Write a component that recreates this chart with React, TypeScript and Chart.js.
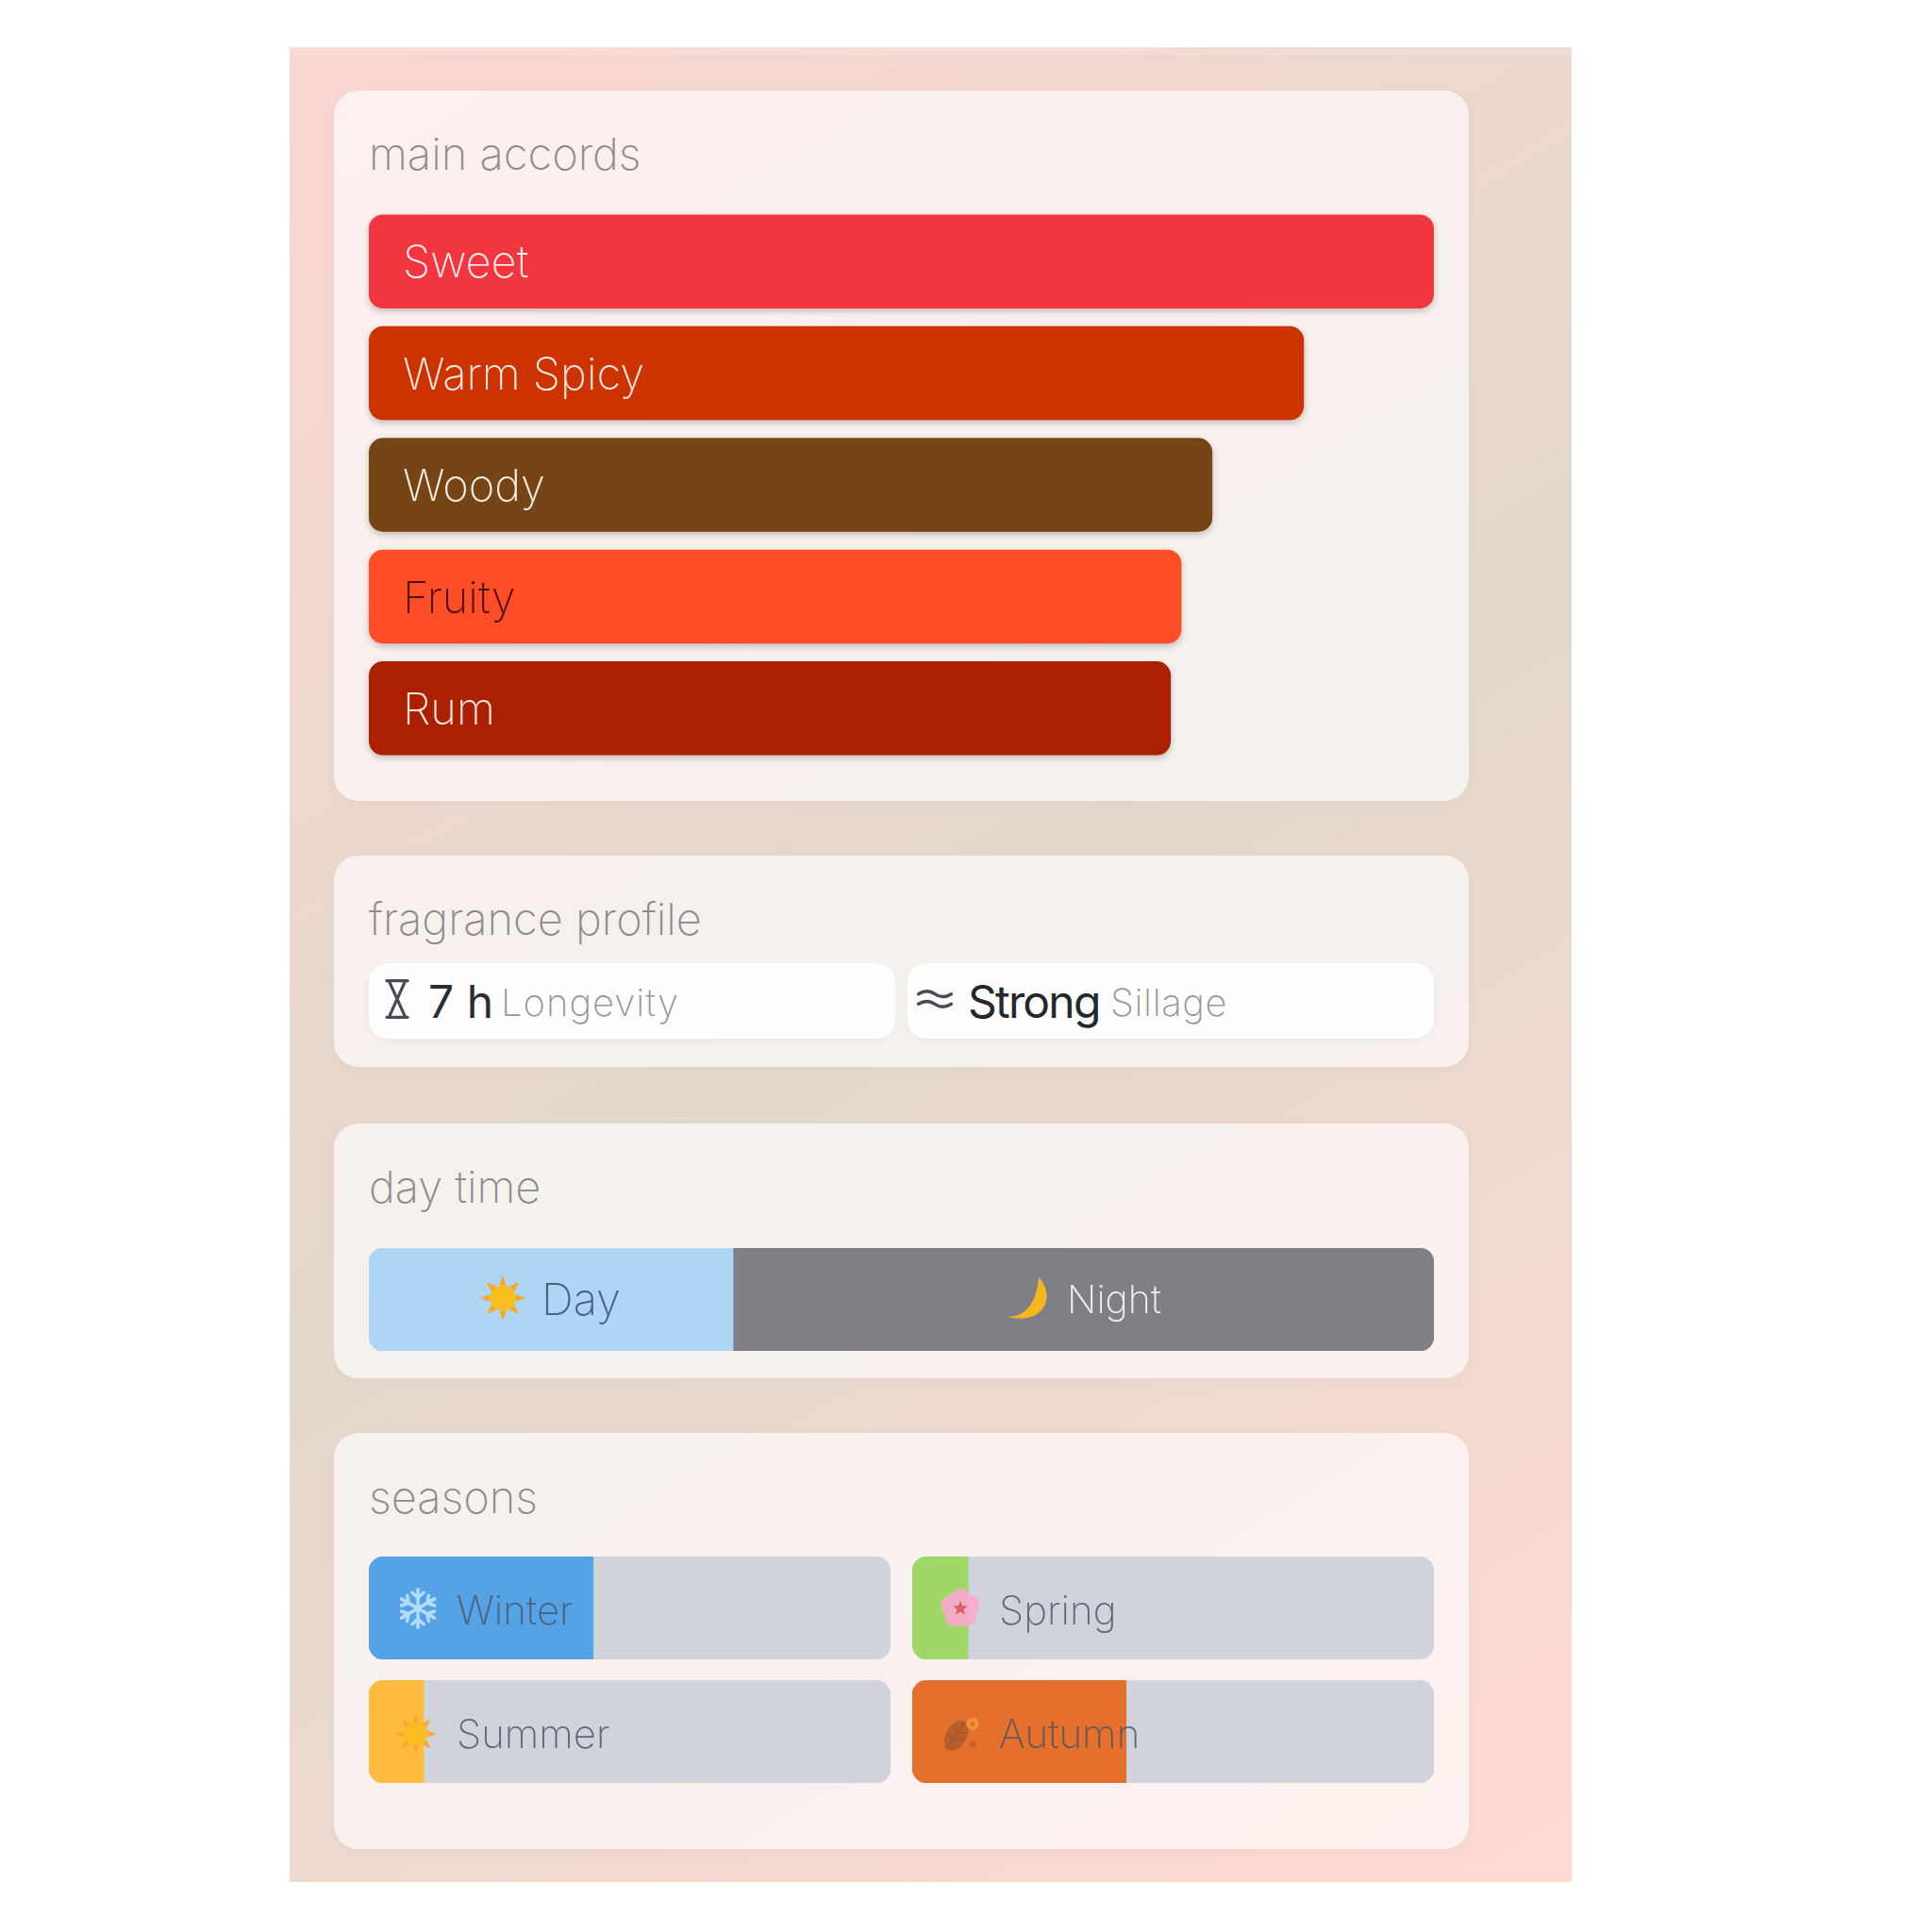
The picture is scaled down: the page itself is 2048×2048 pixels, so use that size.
import React, { useEffect, useRef } from "react";
import { Chart, registerables } from "chart.js";

Chart.register(...registerables);

const accordNames = ["Sweet", "Warm Spicy", "Woody", "Fruity", "Rum"];
const accordValues = [100, 87.8, 79.2, 76.3, 75.3];
const accordColors = ["#F23640", "#CC3300", "#774515", "#FF4D28", "#AA2000"];
const accordTextColors = ["#FDEBEC", "#FBE9E1", "#F6EDE3", "#4A120A", "#F9E6E0"];

const dayLabels = ["Day", "Night"];
const dayValues = [34.2, 65.8];
const dayColors = ["#AFD5F5", "#7F7F86"];

const seasonNames = ["Winter", "Spring", "Summer", "Autumn"];
const seasonValues = [43, 10.7, 10.5, 41];
const seasonTrack = [100];
const seasonColors = ["#55A3E6", "#A0D868", "#FFBB3D", "#E56F2C"];

const FONT = "Inter, 'Noto Sans', sans-serif";
const THIN = 200;

const softShadow = {
  id: "softShadow",
  beforeDatasetsDraw(chart: any) {
    const s = chart.options.plugins.softShadow;
    if (!s || !s.on) return;
    chart.ctx.save();
    chart.ctx.shadowColor = "rgba(0,0,0,0.22)";
    chart.ctx.shadowBlur = 7;
    chart.ctx.shadowOffsetY = 3;
  },
  afterDatasetsDraw(chart: any) {
    const s = chart.options.plugins.softShadow;
    if (!s || !s.on) return;
    chart.ctx.restore();
  },
};

const hiddenScale = { display: false, grid: { display: false }, border: { display: false } };

function AccordChart() {
  const ref = useRef<HTMLCanvasElement>(null);
  useEffect(() => {
    const chart = new Chart(ref.current as any, {
      type: "bar",
      plugins: [softShadow],
      data: {
        labels: accordNames,
        datasets: [
          {
            data: accordValues,
            backgroundColor: accordColors,
            borderRadius: 15,
            borderSkipped: false,
            barPercentage: 1,
            categoryPercentage: 0.84,
            clip: false,
          } as any,
        ],
      },
      options: {
        indexAxis: "y",
        animation: false,
        responsive: false,
        devicePixelRatio: 1,
        layout: { padding: { left: 12, right: 12 } },
        plugins: { legend: { display: false }, tooltip: { enabled: false }, softShadow: { on: true } } as any,
        scales: {
          x: { ...hiddenScale, min: 0, max: 100 },
          y: {
            grid: { display: false, drawTicks: false },
            border: { display: false },
            afterFit: (s: any) => {
              s.width = 0;
              s.paddingTop = 0;
              s.paddingBottom = 0;
            },
            ticks: {
              mirror: true,
              z: 1,
              padding: 36,
              labelOffset: 3,
              autoSkip: false,
              font: { family: FONT, size: 47, weight: String(THIN) },
              color: (c: any) => accordTextColors[c.index],
            },
          },
        },
      } as any,
    });
    return () => chart.destroy();
  }, []);
  return (
    <canvas
      ref={ref}
      width={1153}
      height={592}
      style={{ position: "absolute", left: 379, top: 218, width: 1153, height: 592 }}
    />
  );
}

function DayChart() {
  const ref = useRef<HTMLCanvasElement>(null);
  useEffect(() => {
    const chart = new Chart(ref.current as any, {
      type: "bar",
      data: {
        labels: ["day time"],
        datasets: dayLabels.map((name, i) => ({
          label: name,
          data: [dayValues[i]],
          backgroundColor: dayColors[i],
          borderSkipped: false,
          barPercentage: 1,
          categoryPercentage: 1,
          borderRadius:
            i === 0
              ? { topLeft: 15, bottomLeft: 15, topRight: 0, bottomRight: 0 }
              : { topLeft: 0, bottomLeft: 0, topRight: 15, bottomRight: 15 },
        })) as any,
      },
      options: {
        indexAxis: "y",
        animation: false,
        responsive: false,
        devicePixelRatio: 1,
        plugins: { legend: { display: false }, tooltip: { enabled: false } },
        scales: {
          x: { ...hiddenScale, stacked: true, min: 0, max: 100 },
          y: { ...hiddenScale, stacked: true },
        },
      } as any,
    });
    return () => chart.destroy();
  }, []);
  return (
    <canvas
      ref={ref}
      width={1129}
      height={109}
      style={{ position: "absolute", left: 391, top: 1323, width: 1129, height: 109 }}
    />
  );
}

function SeasonChart({ index, left, top }: { index: number; left: number; top: number }) {
  const ref = useRef<HTMLCanvasElement>(null);
  useEffect(() => {
    const chart = new Chart(ref.current as any, {
      type: "bar",
      data: {
        labels: [seasonNames[index]],
        datasets: [
          {
            data: [seasonValues[index]],
            backgroundColor: seasonColors[index],
            borderSkipped: false,
            borderRadius: { topLeft: 16, bottomLeft: 16, topRight: 0, bottomRight: 0 },
            barPercentage: 1,
            categoryPercentage: 1,
          },
          {
            data: seasonTrack,
            backgroundColor: "#D0D3DB",
            borderSkipped: false,
            borderRadius: 16,
            barPercentage: 1,
            categoryPercentage: 1,
          },
        ] as any,
      },
      options: {
        indexAxis: "y",
        animation: false,
        responsive: false,
        devicePixelRatio: 1,
        datasets: { bar: { grouped: false } },
        plugins: { legend: { display: false }, tooltip: { enabled: false } },
        scales: {
          x: { ...hiddenScale, min: 0, max: 100 },
          y: hiddenScale,
        },
      } as any,
    });
    return () => chart.destroy();
  }, [index]);
  return (
    <canvas
      ref={ref}
      width={553}
      height={109}
      style={{ position: "absolute", left, top, width: 553, height: 109 }}
    />
  );
}

function Label(props: {
  x: number;
  y: number;
  size: number;
  color: string;
  weight?: number;
  spacing?: number;
  opacity?: number;
  children: React.ReactNode;
}) {
  return (
    <div
      style={{
        position: "absolute",
        left: props.x,
        top: props.y,
        transform: "translateY(-50%)",
        fontFamily: FONT,
        fontSize: props.size,
        fontWeight: props.weight ?? THIN,
        letterSpacing: props.spacing ?? 0,
        color: props.color,
        opacity: props.opacity ?? 1,
        whiteSpace: "nowrap",
        lineHeight: 1.2,
      }}
    >
      {props.children}
    </div>
  );
}

function Card({ top, bottom }: { top: number; bottom: number }) {
  return (
    <div
      style={{
        position: "absolute",
        left: 354,
        top,
        width: 1203,
        height: bottom - top,
        borderRadius: 26,
        background: "rgba(255,255,255,0.63)",
        boxShadow: "0 4px 16px rgba(0,0,0,0.025)",
      }}
    />
  );
}

function Pill({ left, width }: { left: number; width: number }) {
  return (
    <div
      style={{
        position: "absolute",
        left,
        top: 1021,
        width,
        height: 80,
        borderRadius: 20,
        background: "#FEFEFE",
        boxShadow: "0 3px 8px rgba(0,0,0,0.04)",
      }}
    />
  );
}

function Icon({ cx, cy, size, opacity = 1, children }: any) {
  return (
    <svg
      viewBox="-50 -50 100 100"
      width={size}
      height={size}
      style={{ position: "absolute", left: cx - size / 2, top: cy - size / 2, opacity }}
    >
      {children}
    </svg>
  );
}

const angles = [0, 45, 90, 135, 180, 225, 270, 315];

function Sun({ body = "#F7BE1E", ray = "#F9A825" }: any) {
  return (
    <g>
      {angles.map((a) => (
        <polygon key={a} points="-8,-28 8,-28 0,-50" fill={ray} transform={`rotate(${a})`} />
      ))}
      <circle r="28" fill={body} />
    </g>
  );
}

function Snow() {
  return (
    <g stroke="#BDE3FA" strokeWidth="8" strokeLinecap="round" fill="none">
      {[0, 60, 120, 180, 240, 300].map((a) => (
        <g key={a} transform={`rotate(${a})`}>
          <line x1="0" y1="0" x2="0" y2="-46" />
          <polyline points="-14,-38 0,-26 14,-38" />
        </g>
      ))}
    </g>
  );
}

function Flower() {
  return (
    <g>
      {[0, 72, 144, 216, 288].map((a) => (
        <circle key={a} cx="0" cy="-24" r="24" fill="#FBA9D0" transform={`rotate(${a})`} />
      ))}
      <circle r="20" fill="#FBA9D0" />
      <polygon
        points="0,-18 5,-6 17,-6 8,3 11,16 0,8 -11,16 -8,3 -17,-6 -5,-6"
        fill="#E6506A"
      />
    </g>
  );
}

function Leaf() {
  return (
    <g>
      <ellipse cx="-12" cy="6" rx="25" ry="40" fill="#A65A30" transform="rotate(30 -12 6)" />
      <path d="M-34,36 L8,-26 M-20,16 L-32,2 M-8,0 L-16,-18 M-18,18 L6,14 M-6,0 L14,0" stroke="#8A4A2A" strokeWidth="3" fill="none" />
      <circle cx="27" cy="-22" r="15" fill="#F0A03C" />
      <circle cx="27" cy="-22" r="6" fill="#E56F2C" />
      <circle cx="28" cy="28" r="8" fill="#C65A24" />
    </g>
  );
}

const seasonSlots = [
  { left: 391, top: 1650, cx: 443, cy: 1705, tx: 484, ty: 1707 },
  { left: 967, top: 1650, cx: 1018, cy: 1705, tx: 1059, ty: 1707 },
  { left: 391, top: 1781, cx: 441, cy: 1838, tx: 484, ty: 1838 },
  { left: 967, top: 1781, cx: 1019, cy: 1837, tx: 1059, ty: 1838 },
];

const seasonIcons = [<Snow />, <Flower />, <Sun />, <Leaf />];

export default function App() {
  return (
    <div style={{ position: "absolute", left: 0, top: 0, width: 2048, height: 2048, background: "#fff", overflow: "hidden" }}>
      <div
        style={{
          position: "absolute",
          left: 307,
          top: 50,
          width: 1359,
          height: 1945,
          background: "linear-gradient(148deg, #FAD6D0 0%, #E3D8CC 50%, #FDD9D3 100%)",
        }}
      />
      <div style={{ position: "absolute", left: 307, top: 50, width: 1359, height: 8, background: "rgba(255,255,255,0.15)" }} />

      <Card top={96} bottom={849} />
      <Card top={907} bottom={1131} />
      <Card top={1191} bottom={1461} />
      <Card top={1519} bottom={1960} />

      <Label x={391} y={163} size={47} color="#8C8C8C">main accords</Label>
      <AccordChart />

      <Label x={391} y={974} size={47} color="#8C8C8C">fragrance profile</Label>
      <Pill left={391} width={558} />
      <Pill left={962} width={558} />
      <Icon cx={421} cy={1059} size={46}>
        <path d="M-24,-42 H24 M-24,42 H24 M-19,-42 L19,42 M19,-42 L-19,42" stroke="#454C55" strokeWidth="7" fill="none" strokeLinecap="round" />
      </Icon>
      <Label x={454} y={1062} size={48} color="#2A2D33" weight={400}>7 h</Label>
      <Label x={531} y={1063} size={40} color="#969696" spacing={1}>Longevity</Label>
      <Icon cx={991} cy={1059} size={38}>
        <path d="M-46,-14 C-30,-24 -14,-24 0,-14 C14,-4 30,-4 46,-14 M-46,14 C-30,4 -14,4 0,14 C14,24 30,24 46,14" stroke="#454C55" strokeWidth="9" fill="none" strokeLinecap="round" />
      </Icon>
      <Label x={1026} y={1062} size={48} color="#24272C" weight={400} spacing={-1.8}>Strong</Label>
      <Label x={1177} y={1063} size={40} color="#969696" spacing={0.6}>Sillage</Label>

      <Label x={391} y={1258} size={47} color="#8C8C8C">day time</Label>
      <DayChart />
      <Icon cx={533} cy={1376} size={48}><Sun /></Icon>
      <Label x={574} y={1377} size={47} color="#456583">{dayLabels[0]}</Label>
      <Icon cx={1092} cy={1378} size={50}>
        <path d="M18,-48 C56,-8 30,54 -48,36 C-10,36 14,6 18,-48 Z" fill="#F5B71E" />
      </Icon>
      <Label x={1131} y={1378} size={41} color="#F2F2F6">{dayLabels[1]}</Label>

      <Label x={391} y={1587} size={47} color="#8C8C8C">seasons</Label>
      {seasonNames.map((name, i) => (
        <SeasonChart key={name} index={i} left={seasonSlots[i].left} top={seasonSlots[i].top} />
      ))}
      {seasonNames.map((name, i) => {
        const s = seasonSlots[i];
        return (
          <React.Fragment key={name}>
            <Icon cx={s.cx} cy={s.cy} size={44} opacity={i === 3 ? 0.75 : 0.9}>{seasonIcons[i]}</Icon>
            <Label x={s.tx} y={s.ty} size={42} color="#4B5563" opacity={0.85}>{name}</Label>
          </React.Fragment>
        );
      })}
    </div>
  );
}
